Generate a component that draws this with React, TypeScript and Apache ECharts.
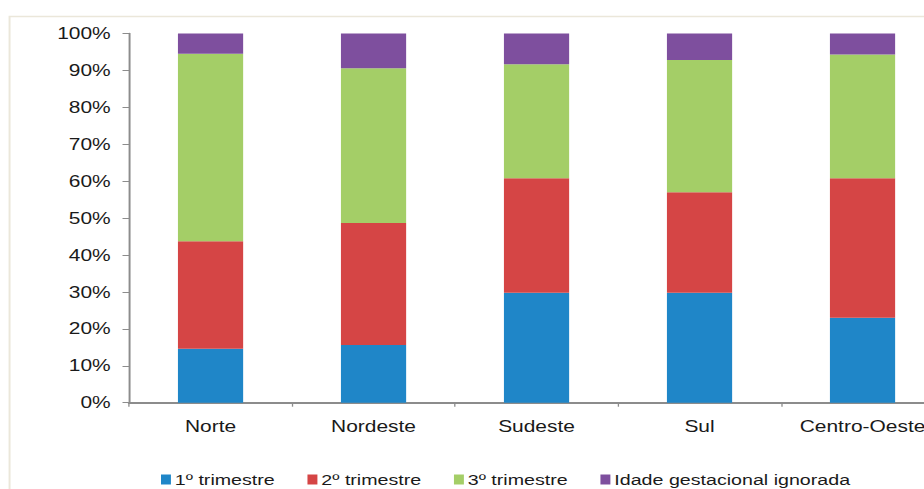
import React, { useEffect, useRef } from "react";
import * as echarts from "echarts";

const categories = ["Norte", "Nordeste", "Sudeste", "Sul", "Centro-Oeste"];
const trimestre1 = [14.6, 15.6, 29.8, 29.8, 23.0];
const trimestre2 = [29.1, 33.1, 31.0, 27.2, 37.8];
const trimestre3 = [50.8, 41.9, 30.9, 35.8, 33.5];
const ignorada = [5.5, 9.4, 8.3, 7.2, 5.7];
const seriesNames = ["1º trimestre", "2º trimestre", "3º trimestre", "Idade gestacional ignorada"];
const seriesColors = ["#1f86c8", "#d54545", "#a4ce67", "#7e4f9e"];

const SX = 924 / 706;
const FONT = "'Liberation Sans', Arial, sans-serif";

export default function App() {
  const ref = useRef<HTMLDivElement>(null);
  useEffect(() => {
    if (!ref.current) return;
    const chart = echarts.init(ref.current, undefined, { renderer: "svg" });
    const data = [trimestre1, trimestre2, trimestre3, ignorada];
    chart.setOption({
      animation: false,
      textStyle: { fontFamily: FONT },
      graphic: [
        {
          type: "rect",
          shape: { x: 7.3, y: 16.5, width: 800, height: 500 },
          style: { fill: "none", stroke: "#ebe7da", lineWidth: 1.5 },
          silent: true,
        },
      ],
      grid: { left: 98.6, top: 33.5, width: 622.7, bottom: 86.3 },
      legend: {
        left: 118,
        top: 467,
        itemWidth: 7.6,
        itemHeight: 10,
        itemGap: 25,
        icon: "rect",
        textStyle: { fontSize: 15, color: "#1a1a1a", fontFamily: FONT, padding: [0, 0, 0, -2] },
        data: seriesNames,
      },
      xAxis: {
        type: "category",
        data: categories,
        axisLine: { lineStyle: { color: "#8c8c8c", width: 2 } },
        axisTick: { show: true, length: 4, lineStyle: { color: "#8c8c8c" } },
        axisLabel: { fontSize: 16, color: "#1a1a1a", margin: 16, interval: 0, fontFamily: FONT },
      },
      yAxis: {
        type: "value",
        min: 0,
        max: 100,
        interval: 10,
        axisLine: { show: true, lineStyle: { color: "#8c8c8c", width: 1.5 } },
        axisTick: { show: true, length: 5, lineStyle: { color: "#8c8c8c" } },
        splitLine: { show: false },
        axisLabel: { fontSize: 16, color: "#1a1a1a", margin: 14, formatter: "{value}%", fontFamily: FONT },
      },
      series: seriesNames.map((name, i) => ({
        name,
        type: "bar",
        stack: "total",
        barWidth: "40%",
        itemStyle: { color: seriesColors[i] },
        data: data[i],
      })),
    });
    return () => chart.dispose();
  }, []);
  return (
    <div style={{ position: "absolute", left: 0, top: 0, width: 924, height: 489, overflow: "hidden" }}>
      <div
        ref={ref}
        style={{
          position: "absolute",
          left: 0,
          top: 0,
          width: 740,
          height: 489,
          transform: `scaleX(${SX})`,
          transformOrigin: "0 0",
        }}
      />
    </div>
  );
}
